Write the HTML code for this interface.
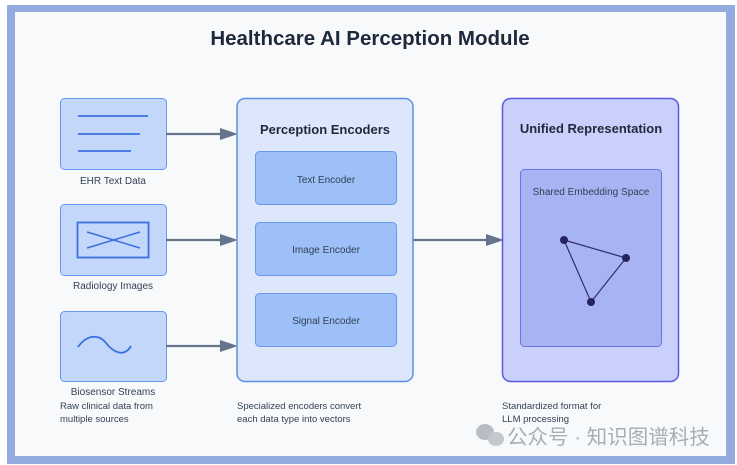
<!DOCTYPE html>
<html><head><meta charset="utf-8"><style>
html,body{margin:0;padding:0;background:#fff;}
svg{display:block;font-family:"Liberation Sans","Noto Sans CJK SC",sans-serif;}
</style></head><body>
<svg width="737" height="465" viewBox="0 0 737 465" xmlns="http://www.w3.org/2000/svg">
<rect x="0" y="0" width="737" height="465" fill="#ffffff"/>
<rect x="7" y="5" width="728" height="459" fill="#94abe0"/>
<rect x="15" y="12" width="711" height="444" fill="#f8f9fb"/>
<text x="370" y="45" text-anchor="middle" font-size="20.5" font-weight="bold" fill="#1e293b">Healthcare AI Perception Module</text>

<!-- left input boxes -->
<rect x="60.5" y="98.5" width="106" height="71" rx="4" fill="#c3d7fb" stroke="#6a98ec"/>
<line x1="78" y1="116" x2="148" y2="116" stroke="#3b6fe0" stroke-width="1.8"/>
<line x1="78" y1="134" x2="140" y2="134" stroke="#3b6fe0" stroke-width="1.8"/>
<line x1="78" y1="151" x2="131" y2="151" stroke="#3b6fe0" stroke-width="1.8"/>
<text x="113" y="184" text-anchor="middle" font-size="10" fill="#334155">EHR Text Data</text>

<rect x="60.5" y="204.5" width="106" height="71" rx="4" fill="#c3d7fb" stroke="#6a98ec"/>
<rect x="77.5" y="222.5" width="71" height="35" fill="none" stroke="#3b6fe0" stroke-width="1.8"/>
<line x1="87" y1="232" x2="140" y2="248" stroke="#3b6fe0" stroke-width="1.5"/>
<line x1="87" y1="248" x2="140" y2="232" stroke="#3b6fe0" stroke-width="1.5"/>
<text x="113" y="289" text-anchor="middle" font-size="10" fill="#334155">Radiology Images</text>

<rect x="60.5" y="311.5" width="106" height="70" rx="4" fill="#c3d7fb" stroke="#6a98ec"/>
<path d="M78 347 C 88 333, 100 335, 106 343 C 113 352, 124 358, 131 346" fill="none" stroke="#3b6fe0" stroke-width="1.8"/>
<text x="113" y="395" text-anchor="middle" font-size="10" fill="#334155">Biosensor Streams</text>
<text x="60" y="409" font-size="9.5" fill="#334155">Raw clinical data from</text>
<text x="60" y="422" font-size="9.5" fill="#334155">multiple sources</text>

<!-- arrows -->
<g stroke="#64748b" stroke-width="2.2" fill="#64748b">
<line x1="166" y1="134" x2="222" y2="134"/><polygon points="220,128 238,134 220,140" stroke="none"/>
<line x1="166" y1="240" x2="222" y2="240"/><polygon points="220,234 238,240 220,246" stroke="none"/>
<line x1="166" y1="346" x2="222" y2="346"/><polygon points="220,340 238,346 220,352" stroke="none"/>
<line x1="413" y1="240" x2="488" y2="240"/><polygon points="486,234 504,240 486,246" stroke="none"/>
</g>

<!-- encoders -->
<rect x="237" y="98.5" width="176" height="283" rx="8" fill="#dce7fb" stroke="#5e8ee8" stroke-width="1.5"/>
<text x="325" y="134" text-anchor="middle" font-size="13" font-weight="bold" fill="#1e293b">Perception Encoders</text>
<rect x="255.5" y="151.5" width="141" height="53" rx="4" fill="#9cc0f7" stroke="#6a98ec"/>
<text x="326" y="183" text-anchor="middle" font-size="10" fill="#334155">Text Encoder</text>
<rect x="255.5" y="222.5" width="141" height="53" rx="4" fill="#9cc0f7" stroke="#6a98ec"/>
<text x="326" y="253" text-anchor="middle" font-size="10" fill="#334155">Image Encoder</text>
<rect x="255.5" y="293.5" width="141" height="53" rx="4" fill="#9cc0f7" stroke="#6a98ec"/>
<text x="326" y="324" text-anchor="middle" font-size="10" fill="#334155">Signal Encoder</text>
<text x="237" y="409" font-size="9.5" fill="#334155">Specialized encoders convert</text>
<text x="237" y="422" font-size="9.5" fill="#334155">each data type into vectors</text>

<!-- unified -->
<rect x="502.5" y="98.5" width="176" height="283" rx="8" fill="#c9d0fb" stroke="#5b57e0" stroke-width="1.5"/>
<text x="591" y="133" text-anchor="middle" font-size="13" font-weight="bold" fill="#1e293b">Unified Representation</text>
<rect x="520.5" y="169.5" width="141" height="177" rx="4" fill="#a8b3f3" stroke="#6a72e6"/>
<text x="591" y="195" text-anchor="middle" font-size="10" fill="#334155">Shared Embedding Space</text>
<polygon points="564,240 626,258 591,302" fill="none" stroke="#2e2f6e" stroke-width="1.2"/>
<circle cx="564" cy="240" r="4" fill="#24235e"/>
<circle cx="626" cy="258" r="4" fill="#24235e"/>
<circle cx="591" cy="302" r="4" fill="#24235e"/>
<text x="502" y="409" font-size="9.5" fill="#334155">Standardized format for</text>
<text x="502" y="422" font-size="9.5" fill="#334155">LLM processing</text>

<!-- watermark -->
<g fill="#b8bcc4">
<ellipse cx="485" cy="432" rx="9" ry="8"/>
<ellipse cx="496" cy="439" rx="8" ry="7" fill="#c4c8ce"/>
</g>
<text x="507" y="444" font-size="20.5" fill="#a9adb5">公众号 · 知识图谱科技</text>
</svg>
</body></html>
